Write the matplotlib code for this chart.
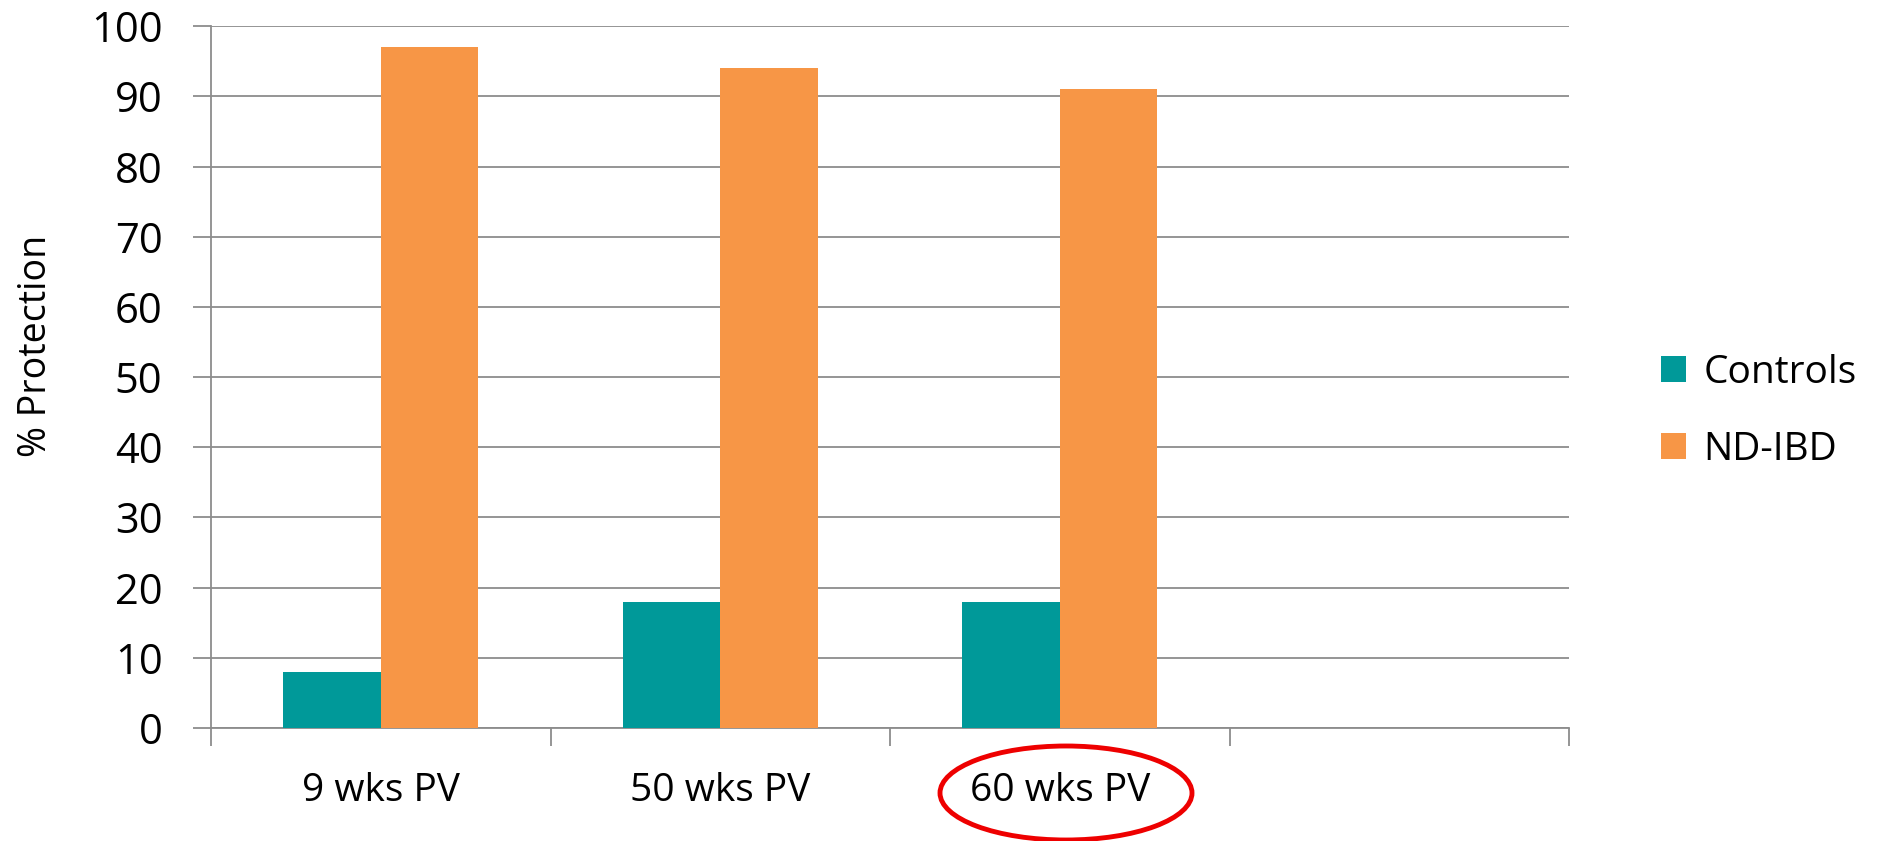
import matplotlib.pyplot as plt
from matplotlib.patches import Ellipse
import numpy as np

categorias = ['9 wks PV', '50 wks PV', '60 wks PV', '']
controls = [8, 18, 18, 0]
nd_ibd = [97, 94, 91, 0]
series = ['Controls', 'ND-IBD']
cores = ['#009999', '#F79646']

plt.rcParams['font.family'] = ['Open Sans', 'DejaVu Sans']

fig = plt.figure(figsize=(18.78, 8.41), dpi=100)
ax = fig.add_axes([0.1124, 0.1344, 0.7231, 0.8343])

x = np.arange(len(categorias))
larg = 0.2875
ax.bar(x[:3] - larg / 2, controls[:3], larg, color=cores[0], label=series[0], zorder=3)
ax.bar(x[:3] + larg / 2, nd_ibd[:3], larg, color=cores[1], label=series[1], zorder=3)

ax.set_xlim(-0.5, len(categorias) - 0.5)
ax.set_ylim(0, 100)
ax.set_yticks(range(0, 101, 10))
ax.yaxis.grid(True, color='#8c8c8c', linewidth=1.3, zorder=0)
ax.set_xticks(x)
ax.set_xticklabels(categorias, fontsize=28)
ax.set_xticks(np.arange(-0.5, len(categorias), 1), minor=True)
ax.tick_params(axis='x', which='major', length=0, pad=32)
ax.tick_params(axis='x', which='minor', length=13, color='#8c8c8c', width=1.3)
ax.tick_params(axis='y', length=13, color='#8c8c8c', width=1.3, labelsize=30, pad=22)
for lado in ['top', 'right']:
    ax.spines[lado].set_visible(False)
for lado in ['left', 'bottom']:
    ax.spines[lado].set_color('#8c8c8c')
    ax.spines[lado].set_linewidth(1.3)

fig.text(0.019, 0.589, '% Protection', rotation=90, fontsize=27,
         ha='center', va='center')

fig.legend(loc='center left', bbox_to_anchor=(0.874, 0.511), fontsize=28,
           frameon=False, handlelength=0.65, handleheight=0.65,
           labelspacing=1.0, handletextpad=0.45, borderpad=0)

fig.add_artist(Ellipse((1066 / 1878, 1 - 793 / 841), 252 / 1878, 94 / 841,
                       transform=fig.transFigure, fill=False,
                       edgecolor='#ee0000', linewidth=3.5))

fig.savefig('out.png', dpi=100)
